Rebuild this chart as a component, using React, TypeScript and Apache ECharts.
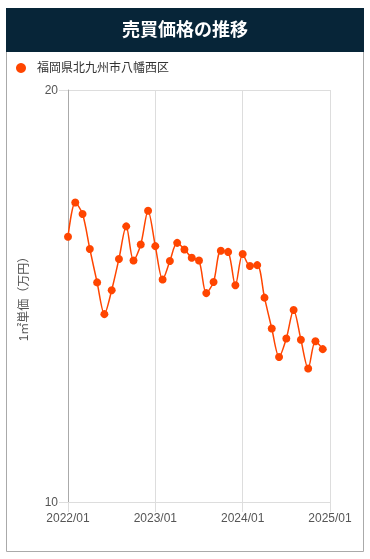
import React, { useEffect, useRef } from "react";
import * as echarts from "echarts";

const TITLE = "売買価格の推移";
const SERIES_NAME = "福岡県北九州市八幡西区";
const Y_NAME = "1㎡単価（万円）";

const months: string[] = [];
for (let y = 2022; y <= 2025; y++) {
  for (let m = 1; m <= 12; m++) {
    if (y === 2025 && m > 1) break;
    months.push(`${y}/${String(m).padStart(2, "0")}`);
  }
}

const prices = [
  16.44, 17.27, 16.99, 16.14, 15.33, 14.56, 15.14, 15.9, 16.69, 15.86, 16.25, 17.07,
  16.21, 15.4, 15.85, 16.29, 16.13, 15.93, 15.86, 15.07, 15.34, 16.1, 16.07, 15.26,
  16.02, 15.73, 15.75, 14.96, 14.21, 13.52, 13.97, 14.66, 13.94, 13.24, 13.9, 13.71,
];

const FONT = "'Liberation Sans', Arial, 'Noto Sans CJK JP', sans-serif";

export default function App() {
  const ref = useRef<HTMLDivElement>(null);
  useEffect(() => {
    if (!ref.current) return;
    const chart = echarts.init(ref.current, undefined, { renderer: "svg" });
    chart.setOption({
      animation: false,
      textStyle: { fontFamily: FONT },
      graphic: [
        {
          type: "rect",
          shape: { x: 6.5, y: 51.5, width: 357, height: 500 },
          style: { fill: "#fff", stroke: "#aaaaaa", lineWidth: 1 },
          z: -10,
        },
        {
          type: "rect",
          shape: { x: 6, y: 8, width: 358, height: 44 },
          style: { fill: "#072538" },
        },
        {
          type: "text",
          x: 185,
          y: 30,
          style: {
            text: TITLE,
            fill: "#fff",
            font: `bold 18px ${FONT}`,
            align: "center",
            verticalAlign: "middle",
          },
        },
      ],
      legend: {
        left: 16,
        top: 62,
        padding: 0,
        itemWidth: 10,
        itemHeight: 10,
        icon: "circle",
        data: [SERIES_NAME],
        textStyle: { fontSize: 12, color: "#333", padding: [0, 0, 0, 6] },
      },
      grid: { left: 68, right: 40, top: 90, bottom: 57 },
      xAxis: {
        type: "category",
        data: months,
        boundaryGap: false,
        axisLine: { lineStyle: { color: "#dddddd" } },
        axisTick: { show: true, interval: 11, length: 10, lineStyle: { color: "#dddddd" } },
        axisLabel: { interval: 11, color: "#555", fontSize: 12, margin: 10, showMaxLabel: true },
        splitLine: { show: true, interval: 11, lineStyle: { color: "#dddddd" } },
      },
      yAxis: {
        type: "value",
        min: 10,
        max: 20,
        interval: 10,
        name: Y_NAME,
        nameLocation: "middle",
        nameGap: 38,
        nameTextStyle: { color: "#555", fontSize: 12 },
        axisLine: { show: true, lineStyle: { color: "#aaaaaa" } },
        axisTick: { show: true, length: 9, lineStyle: { color: "#dddddd" } },
        axisLabel: { color: "#555", fontSize: 12, margin: 10 },
        splitLine: { show: true, lineStyle: { color: "#dddddd" } },
      },
      series: [
        {
          name: SERIES_NAME,
          type: "line",
          data: prices,
          smooth: 0.3,
          showSymbol: true,
          showAllSymbol: true,
          symbol: "circle",
          symbolSize: 8,
          itemStyle: { color: "#ff4500" },
          lineStyle: { color: "#ff4500", width: 1.5 },
        },
      ],
    });
    return () => chart.dispose();
  }, []);
  return (
    <div
      ref={ref}
      style={{ position: "fixed", left: 0, top: 0, width: 370, height: 559 }}
    />
  );
}
